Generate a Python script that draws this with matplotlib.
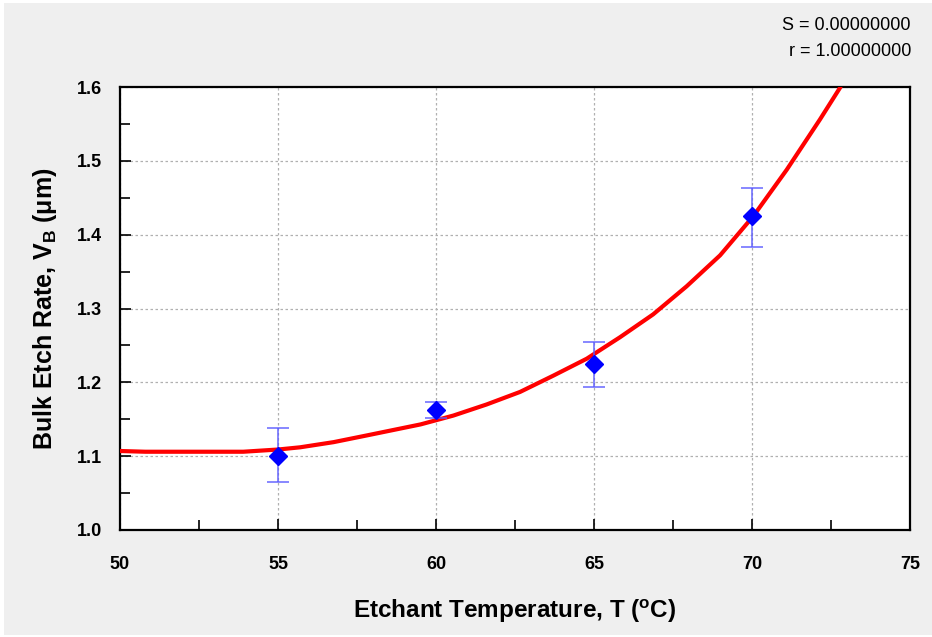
import matplotlib
matplotlib.use("Agg")
import matplotlib.pyplot as plt
from matplotlib import font_manager
from matplotlib.patches import Rectangle
from matplotlib.ticker import MultipleLocator

names = {f.name for f in font_manager.fontManager.ttflist}
NARROW = "Liberation Sans Narrow" if "Liberation Sans Narrow" in names else "Liberation Sans"

# Measured points
temps = [55, 60, 65, 70]
rates = [1.100, 1.163, 1.225, 1.425]
err_low = [0.035, 0.011, 0.031, 0.042]
err_high = [0.038, 0.010, 0.030, 0.038]

# Fitted curve
curve_t = [50.0, 50.8, 53.9, 55.0, 55.7, 56.76, 57.8, 59.51, 60.55, 61.6, 62.66,
           63.71, 64.77, 65.82, 66.87, 67.93, 68.99, 70.04, 71.1, 72.15, 72.8]
curve_v = [1.107, 1.106, 1.106, 1.109, 1.112, 1.119, 1.128, 1.143, 1.155, 1.170, 1.187,
           1.209, 1.232, 1.261, 1.292, 1.330, 1.372, 1.425, 1.488, 1.556, 1.600]

x_ticks = [50, 55, 60, 65, 70, 75]
y_ticks = [1.0, 1.1, 1.2, 1.3, 1.4, 1.5, 1.6]

plt.rcParams['mathtext.fontset'] = 'custom'
plt.rcParams['mathtext.rm'] = NARROW + ':bold'
plt.rcParams['mathtext.bf'] = NARROW + ':bold'

fig = plt.figure(figsize=(9.32, 6.37), dpi=100)
fig.patch.set_facecolor('white')
fig.patches.append(Rectangle((4 / 932, 2 / 637), 1, 632 / 637, transform=fig.transFigure,
                             facecolor='#efefef', edgecolor='none', zorder=-10))

ax = fig.add_axes([120 / 932, 107 / 637, 790 / 932, 443 / 637])
ax.set_facecolor('white')

ax.plot(curve_t, curve_v, color='#ff0000', lw=3.0, zorder=3, solid_capstyle='round',
        solid_joinstyle='round')
ax.errorbar(temps, rates, yerr=[err_low, err_high], fmt='none', ecolor='#5a5aff',
            elinewidth=1.2, capsize=8, capthick=1.2, alpha=0.85, zorder=4)
ax.plot(temps, rates, linestyle='none', marker='D', markersize=9.5, color='#0000ff',
        markeredgecolor='#0000ff', zorder=5)

ax.set_xlim(50, 75)
ax.set_ylim(1.0, 1.6)
ax.set_xticks(x_ticks)
ax.set_yticks(y_ticks)
ax.set_xticklabels([str(v) for v in x_ticks])
ax.set_yticklabels([f"{v:.1f}" for v in y_ticks])
ax.xaxis.set_minor_locator(MultipleLocator(2.5))
ax.yaxis.set_minor_locator(MultipleLocator(0.05))
ax.tick_params(which='both', direction='in', top=False, right=False, width=1.2, color='black')
ax.tick_params(which='major', length=8)
ax.tick_params(which='minor', length=7)
ax.tick_params(axis='x', which='major', pad=19)
ax.tick_params(axis='y', which='major', pad=13)
for lab in ax.get_xticklabels() + ax.get_yticklabels():
    lab.set_fontfamily(NARROW)
    lab.set_fontweight('bold')
    lab.set_fontsize(13)

ax.grid(True, which='major', color='#b0b0b0', linestyle=(0, (2, 2)), linewidth=0.9)
for s in ax.spines.values():
    s.set_linewidth(1.6)
    s.set_color('black')

ax.set_xlabel(r'Etchant Temperature, T ($^{\mathbf{o}}$C)', fontfamily=NARROW,
              fontweight='bold', fontsize=17.5, labelpad=17)
ax.set_ylabel(r'Bulk Etch Rate, V$_{\mathbf{B}}$ (μm)', fontfamily='Liberation Sans',
              fontweight='bold', fontsize=18, labelpad=13)

fig.text(911 / 932, 1 - 25 / 637, 'S = 0.00000000', ha='right', va='center',
         fontfamily=NARROW, fontsize=13)
fig.text(911 / 932, 1 - 52 / 637, 'r = 1.00000000', ha='right', va='center',
         fontfamily=NARROW, fontsize=13)

fig.savefig('out.png', dpi=100, facecolor=fig.get_facecolor())
